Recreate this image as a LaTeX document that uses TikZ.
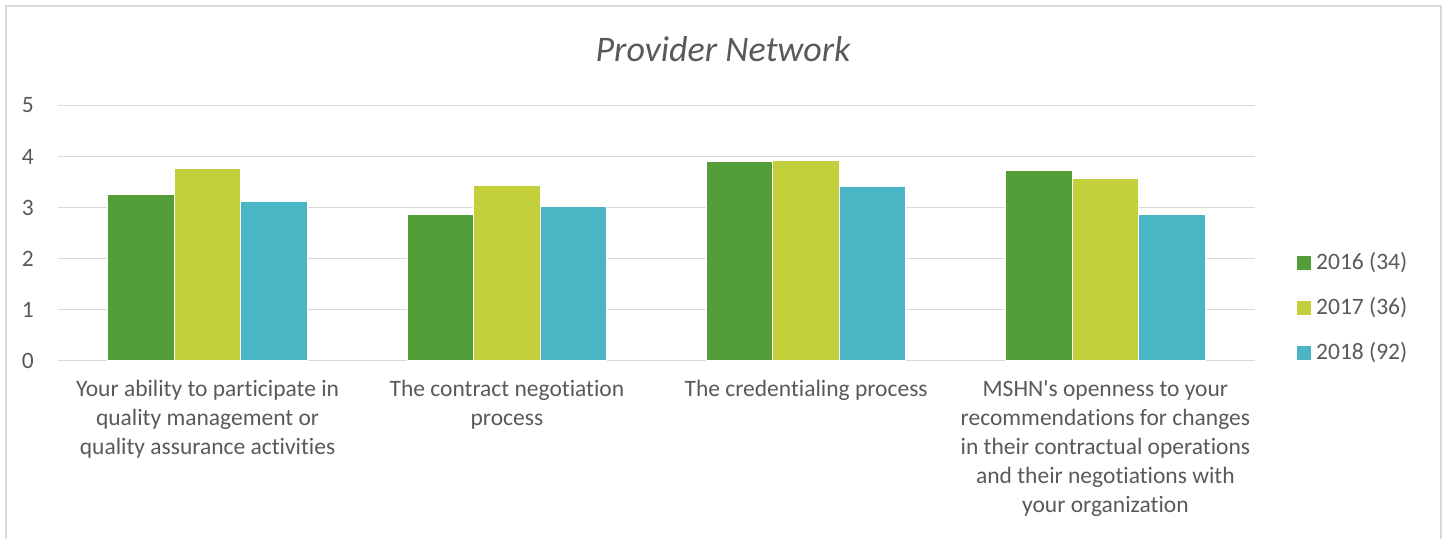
\documentclass[tikz,border=0pt]{standalone}
\usepackage{fontspec}
\setmainfont{Carlito}[Ligatures={NoCommon}]
\usetikzlibrary{positioning}
\definecolor{txtgray}{HTML}{595959}
\definecolor{gridgray}{HTML}{D9D9D9}
\definecolor{bargreen}{HTML}{549E39}
\definecolor{baryellow}{HTML}{C3CF3B}
\definecolor{barcyan}{HTML}{4AB5C4}

\begin{document}
\begin{tikzpicture}[x=1pt,y=-1pt,
  lbl/.style={text=txtgray,font=\fontsize{23.5}{29}\selectfont,align=center,inner sep=0pt},
  bar/.style={draw=white,line width=0.8pt},
  key/.style={minimum size=14pt,inner sep=0pt}]
\useasboundingbox (0,0) rectangle (1445,538);

% Frame
\draw[gridgray,line width=1.5pt] (6,545) -- (6,6) -- (1441,6) -- (1441,545);

% Title
\node[text=txtgray,font=\fontsize{36}{42}\selectfont\itshape] (title) at (723,49) {Provider Network};

% Grid and y labels
\foreach \v in {0,...,5}{
  \draw[gridgray,line width=1.5pt] (58,{360.5-51*\v}) -- (1255,{360.5-51*\v});
  \node[lbl,anchor=east] (tick\v) at (34,{360.5-51*\v}) {\v};
}

% Bars
\foreach \c/\a/\b/\d in {0/3.26/3.77/3.11, 1/2.87/3.44/3.02, 2/3.91/3.93/3.41, 3/3.72/3.58/2.87}{
  \pgfmathsetmacro\xc{207.6+299.25*\c}
  \draw[bar,fill=bargreen] ({\xc-99.75},360.5) rectangle ({\xc-33.25},{360.5-51*\a});
  \draw[bar,fill=baryellow] ({\xc-33.25},360.5) rectangle ({\xc+33.25},{360.5-51*\b});
  \draw[bar,fill=barcyan] ({\xc+33.25},360.5) rectangle ({\xc+99.75},{360.5-51*\d});
}

% Category labels
\node[lbl,anchor=north] (cat1) at (207.6,380) {Your ability to participate in\\quality management or\\quality assurance activities};
\node[lbl,anchor=north] (cat2) at (506.9,380) {The contract negotiation\\process};
\node[lbl,anchor=north] (cat3) at (806.1,380) {The credentialing process};
\node[lbl,anchor=north] (cat4) at (1105.4,380) {MSHN\textquotesingle s openness to your\\recommendations for changes\\in their contractual operations\\and their negotiations with\\your organization};

% Legend
\node[key,fill=bargreen] (key1) at (1304,262.7) {};
\node[key,fill=baryellow] (key2) at (1304,307.7) {};
\node[key,fill=barcyan] (key3) at (1304,352.7) {};
\node[lbl,anchor=west] (leg1) at (1316,262.7) {2016 (34)};
\node[lbl,anchor=west] (leg2) at (1316,307.7) {2017 (36)};
\node[lbl,anchor=west] (leg3) at (1316,352.7) {2018 (92)};
\end{tikzpicture}
\end{document}
